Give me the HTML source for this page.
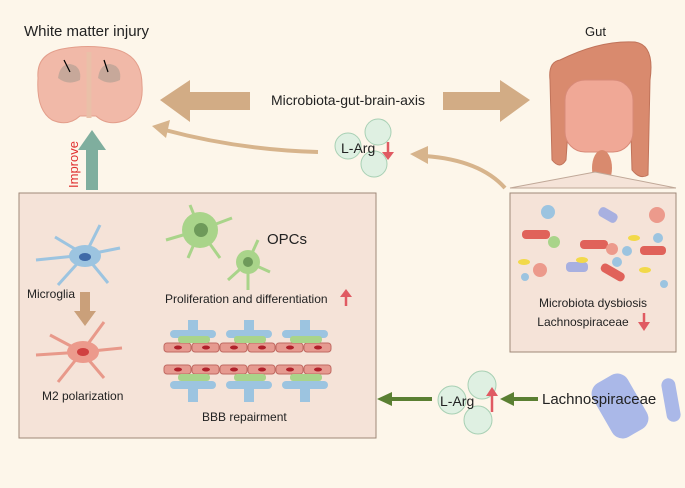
<!DOCTYPE html>
<html><head><style>
html,body{margin:0;padding:0;background:#fdf6ea;}
svg{display:block;font-family:"Liberation Sans",sans-serif;}
</style></head><body>
<svg width="685" height="488" viewBox="0 0 685 488">
<rect width="685" height="488" fill="#fdf6ea"/>
<text x="24" y="36" font-size="15" fill="#222">White matter injury</text>
<text x="585" y="36" font-size="13" fill="#222">Gut</text>
<!-- brain -->
<g>
<path d="M38,78 Q36,54 62,49 Q88,44 114,49 Q142,55 142,85 Q144,110 126,120 Q108,127 96,116 L80,116 Q68,127 52,120 Q36,110 38,78Z" fill="#f1b9a8" stroke="#e39e8b"/>
<path d="M58,78 Q60,64 70,64 Q82,66 80,80 Q68,86 58,78Z" fill="#c7a89a"/>
<path d="M98,78 Q100,64 110,64 Q122,66 120,80 Q108,86 98,78Z" fill="#c7a89a"/>
<path d="M89,52 L89,118" stroke="#eac0a8" stroke-width="5"/>
<line x1="64" y1="60" x2="70" y2="72" stroke="#000" stroke-width="1.2"/>
<line x1="104" y1="60" x2="108" y2="72" stroke="#000" stroke-width="1.2"/>
</g>
<!-- gut -->
<g>
<path d="M560,60 Q600,40 635,42 Q655,45 650,80 L648,175 Q640,180 632,170 L630,100 Q610,90 570,100 L566,160 Q560,170 552,160 L550,80 Q548,62 560,60Z" fill="#d98a6e" stroke="#c0735a"/>
<rect x="565" y="80" width="68" height="72" rx="20" fill="#f0a896" stroke="#d88a78"/>
<ellipse cx="602" cy="168" rx="10" ry="18" fill="#d98a6e"/>
</g>
<!-- big arrows -->
<polygon points="160,100 190,80 190,92 250,92 250,110 190,110 190,122" fill="#d2ac85"/>
<polygon points="530,100 500,80 500,92 443,92 443,110 500,110 500,122" fill="#d2ac85"/>
<text x="348" y="105" font-size="14" text-anchor="middle" fill="#222">Microbiota-gut-brain-axis</text>
<!-- curved arrows -->
<path d="M318,152 Q240,150 165,130" fill="none" stroke="#d7b48c" stroke-width="4"/>
<polygon points="152,126 170,120 166,138" fill="#d7b48c"/>
<path d="M505,188 Q480,160 425,156" fill="none" stroke="#d7b48c" stroke-width="4"/>
<polygon points="410,154 428,146 428,164" fill="#d7b48c"/>
<!-- L-Arg top -->
<g fill="#dff0e2" stroke="#a8d0b4">
<circle cx="378" cy="132" r="13"/><circle cx="348" cy="146" r="13"/><circle cx="374" cy="164" r="13"/>
</g>
<text x="341" y="153" font-size="14" fill="#222">L-Arg</text>
<line x1="388" y1="142" x2="388" y2="156" stroke="#e05a62" stroke-width="2.5"/><polygon points="382,152 394,152 388,160" fill="#e05a62"/>
<!-- improve -->
<rect x="86" y="148" width="12" height="42" fill="#7fae9e"/><polygon points="78,150 92,130 106,150" fill="#7fae9e"/>
<text transform="translate(78,188) rotate(-90)" font-size="13" fill="#e03030">Improve</text>
<!-- main box -->
<rect x="19" y="193" width="357" height="245" fill="#f5e3d8" stroke="#a08878"/>
<!-- microglia -->
<g stroke="#9cc4e0" stroke-width="3" fill="none">
<path d="M85,255 L55,237 M85,255 L100,225 M85,255 L120,248 M85,255 L58,285 M85,255 L108,283 M85,255 L36,260"/>
</g>
<ellipse cx="85" cy="256" rx="16" ry="11" fill="#9cc4e0"/><ellipse cx="85" cy="257" rx="6" ry="4" fill="#3f6aa8"/>
<text x="27" y="298" font-size="12" fill="#222">Microglia</text>
<rect x="80" y="292" width="10" height="20" fill="#caa07a"/><polygon points="74,311 96,311 85,326" fill="#caa07a"/>
<g stroke="#e8998a" stroke-width="3" fill="none">
<path d="M82,352 L50,335 M82,352 L104,322 M82,352 L122,348 M82,352 L58,382 M82,352 L104,378 M82,352 L36,355"/>
</g>
<ellipse cx="83" cy="352" rx="16" ry="11" fill="#ec9a8c"/><ellipse cx="83" cy="352" rx="6" ry="4" fill="#d04040"/>
<text x="42" y="400" font-size="12" fill="#222">M2 polarization</text>
<!-- OPCs -->
<g stroke="#a9d48a" stroke-width="3" fill="none">
<path d="M200,230 L190,205 M200,230 L232,218 M200,230 L166,240 M200,230 L188,258 M200,230 L220,258 M248,262 L258,240 M248,262 L270,272 M248,262 L248,290 M248,262 L228,280"/>
</g>
<circle cx="200" cy="230" r="18" fill="#a9d48a"/><circle cx="201" cy="230" r="7" fill="#6e9a5a"/>
<circle cx="248" cy="262" r="12" fill="#a9d48a"/><circle cx="248" cy="262" r="5" fill="#6e9a5a"/>
<text x="267" y="244" font-size="15" fill="#222">OPCs</text>
<text x="165" y="303" font-size="12" fill="#222">Proliferation and differentiation</text>
<line x1="346" y1="293" x2="346" y2="306" stroke="#e05a62" stroke-width="2.5"/><polygon points="340,297 352,297 346,289" fill="#e05a62"/>
<!-- BBB -->
<g>
<g fill="#e69a90" stroke="#c06a62">
<rect x="164" y="343" width="27" height="9" rx="3"/><rect x="192" y="343" width="27" height="9" rx="3"/><rect x="220" y="343" width="27" height="9" rx="3"/><rect x="248" y="343" width="27" height="9" rx="3"/><rect x="276" y="343" width="27" height="9" rx="3"/><rect x="304" y="343" width="27" height="9" rx="3"/>
<rect x="164" y="365" width="27" height="9" rx="3"/><rect x="192" y="365" width="27" height="9" rx="3"/><rect x="220" y="365" width="27" height="9" rx="3"/><rect x="248" y="365" width="27" height="9" rx="3"/><rect x="276" y="365" width="27" height="9" rx="3"/><rect x="304" y="365" width="27" height="9" rx="3"/>
</g>
<g fill="#b0202a"><ellipse cx="178" cy="347.5" rx="4" ry="2"/><ellipse cx="206" cy="347.5" rx="4" ry="2"/><ellipse cx="234" cy="347.5" rx="4" ry="2"/><ellipse cx="262" cy="347.5" rx="4" ry="2"/><ellipse cx="290" cy="347.5" rx="4" ry="2"/><ellipse cx="318" cy="347.5" rx="4" ry="2"/>
<ellipse cx="178" cy="369.5" rx="4" ry="2"/><ellipse cx="206" cy="369.5" rx="4" ry="2"/><ellipse cx="234" cy="369.5" rx="4" ry="2"/><ellipse cx="262" cy="369.5" rx="4" ry="2"/><ellipse cx="290" cy="369.5" rx="4" ry="2"/><ellipse cx="318" cy="369.5" rx="4" ry="2"/></g>
<g fill="#9cc4e0"><rect x="170" y="330" width="46" height="8" rx="4"/><rect x="226" y="330" width="46" height="8" rx="4"/><rect x="282" y="330" width="46" height="8" rx="4"/>
<rect x="170" y="381" width="46" height="8" rx="4"/><rect x="226" y="381" width="46" height="8" rx="4"/><rect x="282" y="381" width="46" height="8" rx="4"/>
<rect x="188" y="320" width="10" height="14"/><rect x="244" y="320" width="10" height="14"/><rect x="300" y="320" width="10" height="14"/>
<rect x="188" y="386" width="10" height="16"/><rect x="244" y="386" width="10" height="16"/><rect x="300" y="386" width="10" height="16"/></g>
<g fill="#a9d48a"><rect x="178" y="336" width="32" height="7" rx="3"/><rect x="234" y="336" width="32" height="7" rx="3"/><rect x="290" y="336" width="32" height="7" rx="3"/>
<rect x="178" y="374" width="32" height="7" rx="3"/><rect x="234" y="374" width="32" height="7" rx="3"/><rect x="290" y="374" width="32" height="7" rx="3"/></g>
</g>
<text x="202" y="421" font-size="12" fill="#222">BBB repairment</text>
<!-- right box -->
<polygon points="510,188 595,172 676,188" fill="#f5e3d8" stroke="#c0a898"/>
<rect x="510" y="193" width="166" height="159" fill="#f5e3d8" stroke="#a08878"/>
<g>
<circle cx="548" cy="212" r="7" fill="#9cc4e0"/><circle cx="657" cy="215" r="8" fill="#ec9a8c"/>
<rect x="522" y="230" width="28" height="9" rx="4" fill="#e0625a"/><rect x="580" y="240" width="28" height="9" rx="4" fill="#e0625a"/>
<rect x="600" y="268" width="26" height="9" rx="4" fill="#e0625a" transform="rotate(30 613 272)"/><rect x="640" y="246" width="26" height="9" rx="4" fill="#e0625a"/>
<circle cx="554" cy="242" r="6" fill="#a9d48a"/><circle cx="612" cy="249" r="6" fill="#ec9a8c"/><circle cx="540" cy="270" r="7" fill="#ec9a8c"/>
<rect x="598" y="210" width="20" height="10" rx="4" fill="#a8b0e0" transform="rotate(30 608 215)"/><rect x="566" y="262" width="22" height="10" rx="4" fill="#a8b0e0"/>
<ellipse cx="634" cy="238" rx="6" ry="3" fill="#f2d94a"/><ellipse cx="524" cy="262" rx="6" ry="3" fill="#f2d94a"/><ellipse cx="582" cy="260" rx="6" ry="3" fill="#f2d94a"/><ellipse cx="645" cy="270" rx="6" ry="3" fill="#f2d94a"/>
<circle cx="658" cy="238" r="5" fill="#9cc4e0"/><circle cx="627" cy="251" r="5" fill="#9cc4e0"/><circle cx="617" cy="262" r="5" fill="#9cc4e0"/><circle cx="525" cy="277" r="4" fill="#9cc4e0"/><circle cx="664" cy="284" r="4" fill="#9cc4e0"/>
</g>
<text x="593" y="307" font-size="12" text-anchor="middle" fill="#222">Microbiota dysbiosis</text>
<text x="583" y="326" font-size="12" text-anchor="middle" fill="#222">Lachnospiraceae</text>
<line x1="644" y1="313" x2="644" y2="326" stroke="#e05a62" stroke-width="2.5"/><polygon points="638,322 650,322 644,331" fill="#e05a62"/>
<!-- bottom flow -->
<rect x="600" y="375" width="40" height="62" rx="12" fill="#aab8e8" transform="rotate(-30 620 406)"/>
<rect x="664" y="378" width="14" height="44" rx="7" fill="#aab8e8" transform="rotate(-10 671 400)"/>
<g fill="#dff0e2" stroke="#a8d0b4">
<circle cx="482" cy="385" r="14"/><circle cx="452" cy="400" r="14"/><circle cx="478" cy="420" r="14"/>
</g>
<text x="440" y="406" font-size="14" fill="#222">L-Arg</text>
<line x1="492" y1="392" x2="492" y2="412" stroke="#e05a62" stroke-width="2.5"/><polygon points="486,396 498,396 492,387" fill="#e05a62"/>
<text x="542" y="404" font-size="15" fill="#222">Lachnospiraceae</text>
<line x1="538" y1="399" x2="512" y2="399" stroke="#5a7f32" stroke-width="4"/><polygon points="500,399 514,392 514,406" fill="#5a7f32"/>
<line x1="432" y1="399" x2="390" y2="399" stroke="#5a7f32" stroke-width="4"/><polygon points="377,399 392,392 392,406" fill="#5a7f32"/>
</svg>
</body></html>
